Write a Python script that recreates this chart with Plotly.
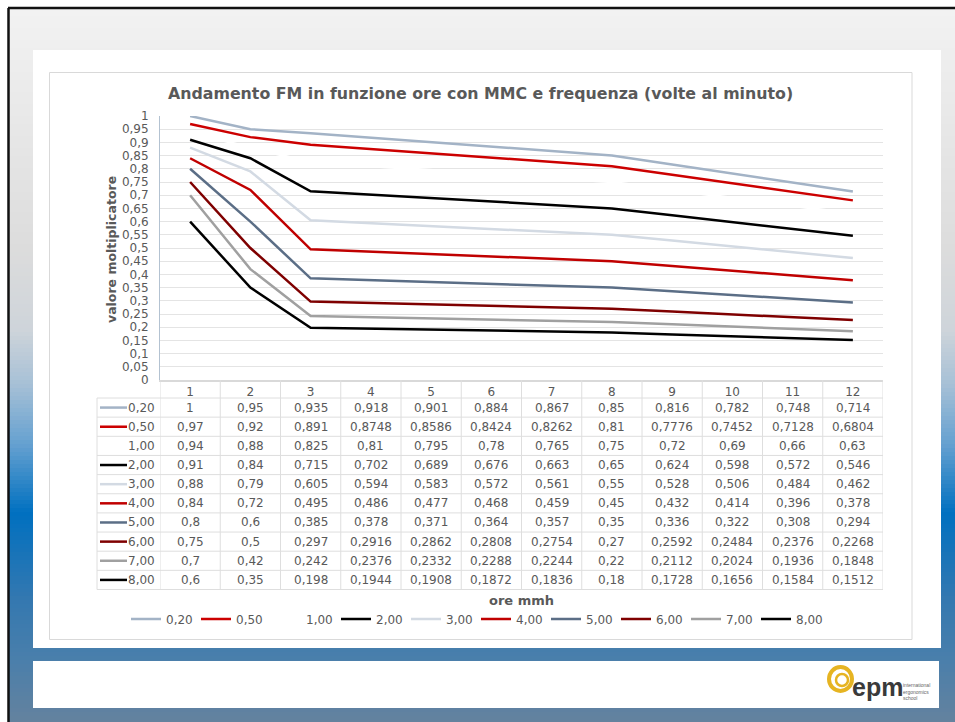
import plotly.graph_objects as go

# ---------------- data ----------------
ore = [1, 2, 3, 4, 5, 6, 7, 8, 9, 10, 11, 12]
series_names = ["0,20", "0,50", "1,00", "2,00", "3,00", "4,00", "5,00", "6,00", "7,00", "8,00"]
s_020 = [1, 0.95, 0.935, 0.918, 0.901, 0.884, 0.867, 0.85, 0.816, 0.782, 0.748, 0.714]
s_050 = [0.97, 0.92, 0.891, 0.8748, 0.8586, 0.8424, 0.8262, 0.81, 0.7776, 0.7452, 0.7128, 0.6804]
s_100 = [0.94, 0.88, 0.825, 0.81, 0.795, 0.78, 0.765, 0.75, 0.72, 0.69, 0.66, 0.63]
s_200 = [0.91, 0.84, 0.715, 0.702, 0.689, 0.676, 0.663, 0.65, 0.624, 0.598, 0.572, 0.546]
s_300 = [0.88, 0.79, 0.605, 0.594, 0.583, 0.572, 0.561, 0.55, 0.528, 0.506, 0.484, 0.462]
s_400 = [0.84, 0.72, 0.495, 0.486, 0.477, 0.468, 0.459, 0.45, 0.432, 0.414, 0.396, 0.378]
s_500 = [0.8, 0.6, 0.385, 0.378, 0.371, 0.364, 0.357, 0.35, 0.336, 0.322, 0.308, 0.294]
s_600 = [0.75, 0.5, 0.297, 0.2916, 0.2862, 0.2808, 0.2754, 0.27, 0.2592, 0.2484, 0.2376, 0.2268]
s_700 = [0.7, 0.42, 0.242, 0.2376, 0.2332, 0.2288, 0.2244, 0.22, 0.2112, 0.2024, 0.1936, 0.1848]
s_800 = [0.6, 0.35, 0.198, 0.1944, 0.1908, 0.1872, 0.1836, 0.18, 0.1728, 0.1656, 0.1584, 0.1512]
y_tick_vals = [0, 0.05, 0.1, 0.15, 0.2, 0.25, 0.3, 0.35, 0.4, 0.45, 0.5,
               0.55, 0.6, 0.65, 0.7, 0.75, 0.8, 0.85, 0.9, 0.95, 1]
y_tick_text = ["0", "0,05", "0,1", "0,15", "0,2", "0,25", "0,3", "0,35", "0,4", "0,45", "0,5",
               "0,55", "0,6", "0,65", "0,7", "0,75", "0,8", "0,85", "0,9", "0,95", "1"]
x_tick_text = ["1", "2", "3", "4", "5", "6", "7", "8", "9", "10", "11", "12"]
title_text = "Andamento FM in funzione ore con MMC e frequenza (volte al minuto)"
y_title = "valore moltiplicatore"
x_title = "ore mmh"

series_values = [s_020, s_050, s_100, s_200, s_300, s_400, s_500, s_600, s_700, s_800]

# ---------------- style ----------------
colors = ["#a3b3c6", "#cc0000", "#ffffff", "#000000", "#d3dae3",
          "#c00000", "#5b6e86", "#7f0000", "#a0a0a0", "#000000"]
W, H = 955, 722
FONT = "DejaVu Sans"
TXT = "#595959"


def X(px):
    return px / W


def Y(py):
    return 1 - py / H


def fmt(v):
    return f"{v:g}".replace(".", ",")


PLOT_L, PLOT_R, PLOT_T, PLOT_B = 160, 883, 116, 380
HEAD_B = 398
ROW_H = 19.15
N_ROWS = len(series_names)
TABLE_B = HEAD_B + ROW_H * N_ROWS
FIRST_COL_L = 97

fig = go.Figure()
for name, vals, col in zip(series_names, series_values, colors):
    fig.add_trace(go.Scatter(x=ore, y=vals, name=name, mode="lines",
                             line=dict(color=col, width=2.5), hoverinfo="skip"))

shapes = []
# background gradient
stops = [(0, (243, 243, 243)), (250, (220, 220, 220)), (330, (206, 212, 218)),
         (385, (166, 192, 214)), (445, (100, 160, 208)), (513, (0, 112, 192)),
         (600, (52, 120, 176)), (660, (74, 127, 171)), (722, (100, 130, 158))]


def grad(py):
    for (y0, c0), (y1, c1) in zip(stops[:-1], stops[1:]):
        if y0 <= py <= y1:
            t = (py - y0) / (y1 - y0)
            return "rgb(%d,%d,%d)" % tuple(round(a + (b - a) * t) for a, b in zip(c0, c1))
    return "rgb(%d,%d,%d)" % stops[-1][1]


step = 4
py = 8
while py < H:
    shapes.append(dict(type="rect", xref="paper", yref="paper", x0=X(9), x1=1,
                       y0=Y(py + step + 0.5), y1=Y(py), fillcolor=grad(py + step / 2),
                       line=dict(width=0), layer="below"))
    py += step
# slide border (top/left)
shapes.append(dict(type="line", xref="paper", yref="paper", x0=X(8), x1=1, y0=Y(8), y1=Y(8),
                   line=dict(color="#111111", width=2.5), layer="below"))
shapes.append(dict(type="line", xref="paper", yref="paper", x0=X(8.5), x1=X(8.5), y0=Y(8), y1=0,
                   line=dict(color="#111111", width=2.5), layer="below"))
# white panel
shapes.append(dict(type="rect", xref="paper", yref="paper", x0=X(33), x1=X(941), y0=Y(648), y1=Y(50),
                   fillcolor="white", line=dict(width=0), layer="below"))
# chart area border
shapes.append(dict(type="rect", xref="paper", yref="paper", x0=X(49.5), x1=X(912), y0=Y(639.5), y1=Y(72.5),
                   fillcolor="white", line=dict(color="#d9d9d9", width=1), layer="below"))
# footer box
shapes.append(dict(type="rect", xref="paper", yref="paper", x0=X(33), x1=X(939), y0=Y(708), y1=Y(661),
                   fillcolor="white", line=dict(width=0), layer="below"))
# logo ring
shapes.append(dict(type="circle", xref="paper", yref="paper", x0=X(829), x1=X(852), y0=Y(691), y1=Y(667),
                   line=dict(color="#e6b422", width=4), layer="above"))
shapes.append(dict(type="circle", xref="paper", yref="paper", x0=X(836), x1=X(848), y0=Y(686), y1=Y(674),
                   line=dict(color="#e6b422", width=2.5), layer="above"))

GRID = "#dedede"
# table horizontal lines
for r in range(N_ROWS + 1):
    yy = HEAD_B + ROW_H * r
    shapes.append(dict(type="line", xref="paper", yref="paper", x0=X(FIRST_COL_L), x1=X(PLOT_R),
                       y0=Y(yy), y1=Y(yy), line=dict(color=GRID, width=1)))
# table vertical lines at category boundaries
for k in range(len(ore) + 1):
    shapes.append(dict(type="line", xref="x", yref="paper", x0=k + 0.5, x1=k + 0.5,
                       y0=Y(PLOT_B), y1=Y(TABLE_B), line=dict(color=GRID, width=1)))
shapes.append(dict(type="line", xref="paper", yref="paper", x0=X(FIRST_COL_L), x1=X(FIRST_COL_L),
                   y0=Y(HEAD_B), y1=Y(TABLE_B), line=dict(color=GRID, width=1)))
# legend keys inside the table
for r, col in enumerate(colors):
    yc = HEAD_B + ROW_H * (r + 0.5)
    shapes.append(dict(type="line", xref="paper", yref="paper", x0=X(100), x1=X(127),
                       y0=Y(yc), y1=Y(yc), line=dict(color=col, width=2.5)))

annotations = []
annotations.append(dict(text="<b>" + title_text + "</b>", x=X(480), y=Y(93), xref="paper", yref="paper",
                        showarrow=False, font=dict(family=FONT, size=15.8, color=TXT),
                        xanchor="center", yanchor="middle"))
annotations.append(dict(text="<b>" + y_title + "</b>", x=X(111), y=Y(250), xref="paper", yref="paper",
                        showarrow=False, textangle=-90, font=dict(family=FONT, size=12.5, color=TXT),
                        xanchor="center", yanchor="middle"))
annotations.append(dict(text="<b>" + x_title + "</b>", x=X((PLOT_L + PLOT_R) / 2), y=Y(600),
                        xref="paper", yref="paper", showarrow=False,
                        font=dict(family=FONT, size=13, color=TXT), xanchor="center", yanchor="middle"))
for r, (name, vals) in enumerate(zip(series_names, series_values)):
    yc = HEAD_B + ROW_H * (r + 0.5)
    annotations.append(dict(text=name, x=X(157), y=Y(yc), xref="paper", yref="paper", showarrow=False,
                            font=dict(family=FONT, size=12, color=TXT), xanchor="right", yanchor="middle"))
    for xv, v in zip(ore, vals):
        annotations.append(dict(text=fmt(v), x=xv, y=Y(yc), xref="x", yref="paper", showarrow=False,
                                font=dict(family=FONT, size=12, color=TXT),
                                xanchor="center", yanchor="middle"))
# logo text
annotations.append(dict(text="<b>epm</b>", x=X(850), y=Y(694), xref="paper", yref="paper", showarrow=False,
                        font=dict(family="Liberation Sans", size=25, color="#3a3a3a"),
                        xanchor="left", yanchor="bottom", yshift=-9))
annotations.append(dict(text="international<br>ergonomics<br>school", x=X(901), y=Y(691), xref="paper",
                        yref="paper", showarrow=False, align="left",
                        font=dict(family="Liberation Sans", size=5, color="#666666"),
                        xanchor="left", yanchor="middle"))

fig.update_layout(
    width=W, height=H, margin=dict(l=0, r=0, t=0, b=0, autoexpand=False),
    paper_bgcolor="white", plot_bgcolor="white",
    shapes=shapes, annotations=annotations,
    showlegend=True,
    legend=dict(orientation="h", x=X(126), y=Y(619), xanchor="left", yanchor="middle",
                font=dict(family=FONT, size=12, color=TXT), bgcolor="rgba(0,0,0,0)",
                entrywidth=25, entrywidthmode="pixels", itemclick=False),
    xaxis=dict(domain=[X(PLOT_L), X(PLOT_R)], range=[0.5, 12.5], tickvals=ore, ticktext=x_tick_text,
               showgrid=False, zeroline=False, showline=True, linecolor="#d9d9d9", linewidth=2,
               automargin=False,
               ticks="", tickfont=dict(family=FONT, size=12, color=TXT), fixedrange=True),
    yaxis=dict(domain=[Y(PLOT_B), Y(PLOT_T)], range=[0, 1], tickvals=y_tick_vals, ticktext=y_tick_text,
               showgrid=True, gridcolor="#e4e4e4", gridwidth=1, zeroline=False,
               showline=True, linecolor="#b3c2d1", linewidth=1, ticks="",
               ticklabelstandoff=8, automargin=False,
               tickfont=dict(family=FONT, size=12, color=TXT), fixedrange=True),
)
fig.write_html("out.html", config={"displayModeBar": False},
               post_script="document.body.style.margin='0';document.body.style.overflow='hidden';")
